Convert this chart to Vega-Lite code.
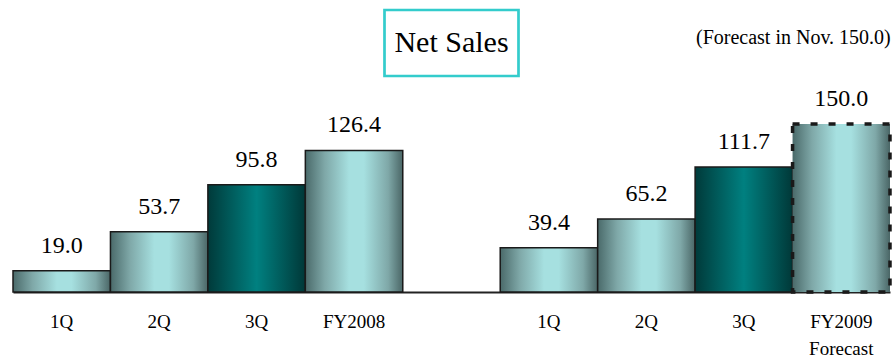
{
  "$schema": "https://vega.github.io/schema/vega-lite/v6.json",
  "padding": {"left": 12, "top": 8, "right": 0, "bottom": 0},
  "background": "white",
  "center": true,
  "bounds": "flush",
  "spacing": 20,
  "config": {"view": {"stroke": null}, "font": "Liberation Serif, Times New Roman, serif"},
  "vconcat": [
    {
      "width": 134,
      "height": 66,
      "view": {"stroke": "#33cccc", "strokeWidth": 2.7},
      "data": {"values": [{"t": "Net Sales"}]},
      "mark": {"type": "text", "fontSize": 30, "font": "Liberation Serif, Times New Roman, serif", "fontWeight": "normal", "color": "black", "baseline": "middle", "align": "center"},
      "encoding": {
        "x": {"field": "t", "type": "nominal", "axis": null},
        "y": {"field": "t", "type": "nominal", "axis": null},
        "text": {"field": "t"}
      }
    },
    {
      "width": 877,
      "height": 196,
      "title": {"text": "(Forecast in Nov. 150.0)", "anchor": "end", "fontSize": 20, "font": "Liberation Serif, Times New Roman, serif", "fontWeight": "normal", "color": "black", "offset": 23, "baseline": "alphabetic", "dx": -1},
      "data": {"values": [
        {"key": "1Q|2008", "value": 19.0},
        {"key": "2Q|2008", "value": 53.7},
        {"key": "3Q|2008", "value": 95.8},
        {"key": "FY2008", "value": 126.4},
        {"key": "1Q|2009", "value": 39.4},
        {"key": "2Q|2009", "value": 65.2},
        {"key": "3Q|2009", "value": 111.7},
        {"key": "FY2009", "value": 150.0}
      ]},
      "encoding": {
        "x": {
          "field": "key", "type": "nominal",
          "scale": {"domain": ["1Q|2008", "2Q|2008", "3Q|2008", "FY2008", "gap", "1Q|2009", "2Q|2009", "3Q|2009", "FY2009"], "paddingInner": 0, "paddingOuter": 0},
          "axis": {
            "title": null,
            "labelExpr": "datum.value == 'gap' ? '' : (datum.value == 'FY2009' ? ['FY2009', 'Forecast'] : split(datum.value, '|')[0])",
            "ticks": false, "grid": false,
            "domainColor": "#222222", "domainWidth": 2,
            "labelFontSize": 19, "labelFont": "Liberation Serif, Times New Roman, serif", "labelFontWeight": "normal", "labelColor": "black",
            "labelPadding": 20, "labelAngle": 0, "labelLineHeight": 27
          }
        },
        "y": {"field": "value", "type": "quantitative", "scale": {"domain": [0, 175]}, "axis": null}
      },
      "layer": [
        {
          "mark": {"type": "bar", "stroke": "#1a1a1a"},
          "encoding": {
            "fill": {
              "condition": {"test": "indexof(datum.key, '3Q') == 0", "value": {"gradient": "linear", "x1": 0, "x2": 1, "y1": 0, "y2": 0, "stops": [{"offset": 0, "color": "#003a3a"}, {"offset": 0.5, "color": "#008080"}, {"offset": 1, "color": "#003838"}]}},
              "value": {"gradient": "linear", "x1": 0, "x2": 1, "y1": 0, "y2": 0, "stops": [{"offset": 0, "color": "#4a6a6a"}, {"offset": 0.2, "color": "#7fa8a8"}, {"offset": 0.45, "color": "#a6e0e0"}, {"offset": 0.6, "color": "#a6e0e0"}, {"offset": 0.85, "color": "#7fa8a8"}, {"offset": 1, "color": "#4a6666"}]}
            },
            "strokeWidth": {"condition": {"test": "datum.key == 'FY2009'", "value": 3.5}, "value": 1.5},
            "strokeDash": {"condition": {"test": "datum.key == 'FY2009'", "value": [7, 11]}, "value": [1, 0]}
          }
        },
        {
          "mark": {"type": "text", "baseline": "alphabetic", "dy": -18, "fontSize": 24, "font": "Liberation Serif, Times New Roman, serif", "fontWeight": "normal", "color": "black"},
          "encoding": {"text": {"field": "value", "type": "quantitative", "format": ".1f"}}
        }
      ]
    }
  ]
}
